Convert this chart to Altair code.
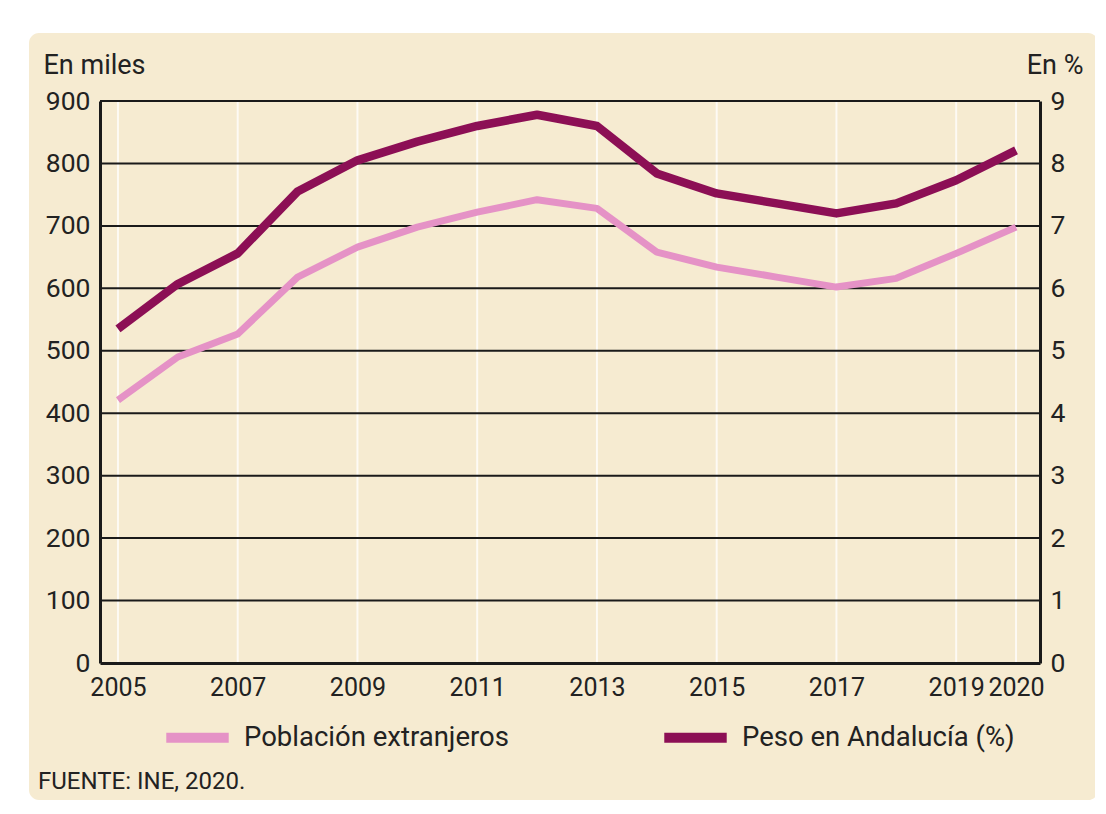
import altair as alt
import pandas as pd

years = [2005, 2006, 2007, 2008, 2009, 2010, 2011, 2012, 2013, 2014, 2015, 2016, 2017, 2018, 2019, 2020]
poblacion = [421, 490, 527, 618, 666, 698, 722, 742, 728, 658, 634, 618, 602, 616, 656, 698]
peso = [5.35, 6.07, 6.56, 7.55, 8.05, 8.35, 8.60, 8.78, 8.60, 7.84, 7.52, 7.36, 7.20, 7.36, 7.73, 8.21]
x_ticks = [2005, 2007, 2009, 2011, 2013, 2015, 2017, 2019, 2020]
left_ticks = [0, 100, 200, 300, 400, 500, 600, 700, 800, 900]
right_ticks = [0, 1, 2, 3, 4, 5, 6, 7, 8, 9]
series = ["Población extranjeros", "Peso en Andalucía (%)"]
colors = ["#e592c6", "#8c0f55"]

BG = "#f6ebd1"
FONT = "Roboto"
INK = "#222222"

df_p = pd.DataFrame({"year": years, "value": poblacion, "serie": series[0]})
df_w = pd.DataFrame({"year": years, "value": peso, "serie": series[1]})
df_xg = pd.DataFrame({"year": x_ticks})
df_yg = pd.DataFrame({"value": left_ticks[1:]})

x_scale = alt.Scale(domain=[2004.7, 2020.4], nice=False, zero=False)
left_scale = alt.Scale(domain=[0, 900], nice=False)
color_scale = alt.Scale(domain=series, range=colors)

x_axis = alt.Axis(
    values=x_ticks, format="d", title=None, ticks=False, labelPadding=12,
    grid=False, domain=True, domainColor="#1a1a1a", domainWidth=3, zindex=1,
    labelFont=FONT, labelFontSize=25, labelColor=INK, labelOverlap=False,
)
x_enc = alt.X("year:Q", scale=x_scale, axis=x_axis)

panel = alt.Chart(pd.DataFrame({"a": [0]})).mark_rect(
    color=BG, cornerRadius=10, clip=False
).encode(
    x=alt.value(-71), x2=alt.value(998), y=alt.value(-68), y2=alt.value(699)
)

xgrid = alt.Chart(df_xg).mark_rule(color="#ffffff", strokeWidth=2, opacity=0.75).encode(
    x=x_enc
)
ygrid = alt.Chart(df_yg).mark_rule(color="#1a1a1a", strokeWidth=2).encode(
    y=alt.Y("value:Q", scale=left_scale, axis=None)
)

line_p = alt.Chart(df_p).mark_line(strokeWidth=7, strokeJoin="round", strokeCap="butt").encode(
    x=x_enc,
    y=alt.Y(
        "value:Q", scale=left_scale,
        axis=alt.Axis(
            values=left_ticks, title="En miles", orient="left", ticks=False, labelPadding=10,
            grid=False, domain=True, domainColor="#1a1a1a", domainWidth=3, zindex=1,
            labelFont=FONT, labelFontSize=26.5, labelColor=INK,
            titleAngle=0, titleAlign="left", titleBaseline="alphabetic",
            titleX=-57, titleY=-28, titleFont=FONT, titleFontSize=27,
            titleFontWeight="normal", titleColor=INK,
        ),
    ),
    color=alt.Color(
        "serie:N", scale=color_scale,
        legend=alt.Legend(
            title=None, orient="none", legendX=61, legendY=600, direction="horizontal",
            symbolType="stroke", symbolSize=3900, symbolStrokeWidth=10,
            labelFont=FONT, labelFontSize=27.5, labelColor=INK,
            labelOffset=10, columnPadding=135, labelLimit=400,
        ),
    ),
)

line_w = alt.Chart(df_w).mark_line(strokeWidth=8.5, strokeJoin="round", strokeCap="butt").encode(
    x=x_enc,
    y=alt.Y(
        "value:Q", scale=alt.Scale(domain=[0, 9], nice=False),
        axis=alt.Axis(
            values=right_ticks, title="En %", orient="right", ticks=False, labelPadding=10,
            grid=False, domain=True, domainColor="#1a1a1a", domainWidth=3, zindex=1,
            labelFont=FONT, labelFontSize=26.5, labelColor=INK,
            titleAngle=0, titleAlign="right", titleBaseline="alphabetic",
            titleX=43, titleY=-28, titleFont=FONT, titleFontSize=27,
            titleFontWeight="normal", titleColor=INK,
        ),
    ),
    color=alt.Color("serie:N", scale=color_scale),
)

source = alt.Chart(pd.DataFrame({"t": ["FUENTE: INE, 2020."]})).mark_text(
    align="left", baseline="alphabetic", font=FONT, fontSize=24, color=INK, clip=False
).encode(text="t:N", x=alt.value(-62), y=alt.value(688))

chart = (
    alt.layer(panel, xgrid, ygrid, line_p, line_w, source)
    .resolve_scale(y="independent")
    .properties(
        width=940, height=562, background="#ffffff",
        autosize=alt.AutoSizeParams(type="none"),
        padding={"left": 92, "top": 93, "right": 55, "bottom": 140},
    )
    .configure_view(strokeWidth=0, fill=None)
)

chart.save("out.html", embed_options={"renderer": "svg", "actions": False})
